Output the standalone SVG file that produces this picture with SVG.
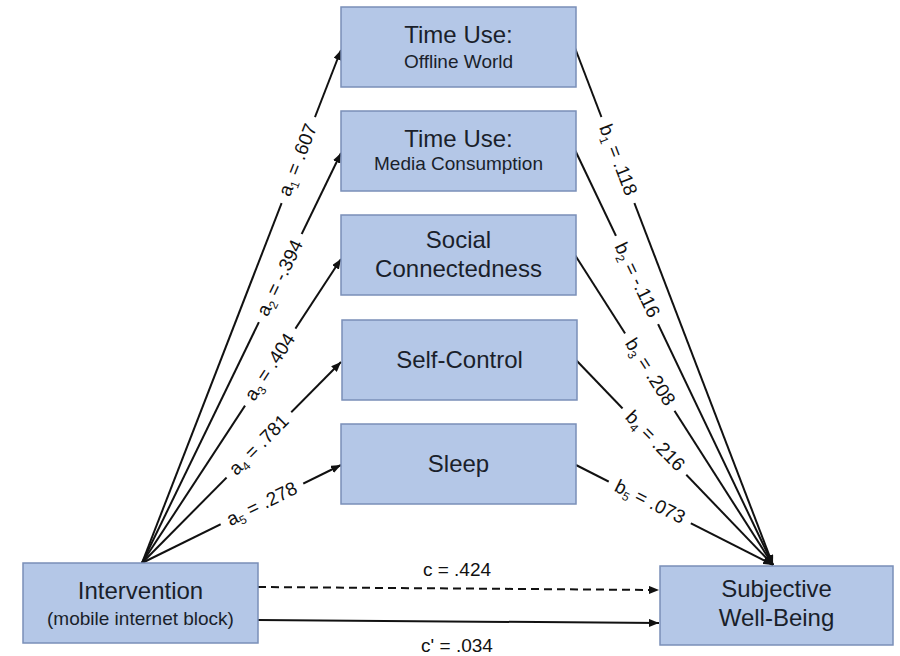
<svg xmlns="http://www.w3.org/2000/svg" width="900" height="656" viewBox="0 0 900 656">
<defs>
<marker id="arr" markerUnits="userSpaceOnUse" markerWidth="10" markerHeight="8" refX="10" refY="4" orient="auto">
<path d="M0,0 L10,4 L0,8 z" fill="#111"/>
</marker>
<style>
.box{fill:#b4c7e7;stroke:#7a8fb8;stroke-width:1.5}
.t{font-family:"Liberation Sans",Arial,sans-serif;fill:#1a1f2b;text-anchor:middle}
.big{font-size:24px}
.sm{font-size:19px}
.lab{font-family:"Liberation Sans",Arial,sans-serif;font-size:19px;fill:#111;text-anchor:middle}
.sub{font-size:12px}
.ln{stroke:#111;stroke-width:2;fill:none}
.bg{fill:#fff}
</style>
</defs>
<rect width="900" height="656" fill="#fff"/>
<g id="connectors">
<line class="ln" x1="142" y1="563" x2="341" y2="50" marker-end="url(#arr)"/>
<line class="ln" x1="142" y1="563" x2="341" y2="153" marker-end="url(#arr)"/>
<line class="ln" x1="142" y1="563" x2="341" y2="259" marker-end="url(#arr)"/>
<line class="ln" x1="142" y1="563" x2="341" y2="362" marker-end="url(#arr)"/>
<line class="ln" x1="142" y1="563" x2="341" y2="465" marker-end="url(#arr)"/>
<line class="ln" x1="575" y1="48" x2="773" y2="565" marker-end="url(#arr)"/>
<line class="ln" x1="575" y1="150" x2="773" y2="565" marker-end="url(#arr)"/>
<line class="ln" x1="575" y1="255" x2="773" y2="565" marker-end="url(#arr)"/>
<line class="ln" x1="576" y1="360" x2="773" y2="565" marker-end="url(#arr)"/>
<line class="ln" x1="576" y1="465" x2="773" y2="565" marker-end="url(#arr)"/>
<line class="ln" x1="258" y1="587" x2="659" y2="590" stroke-dasharray="8 5" marker-end="url(#arr)"/>
<line class="ln" x1="258" y1="620" x2="659" y2="623" marker-end="url(#arr)"/>
<g transform="translate(298,160) rotate(-68.8)"><rect class="bg" x="-46" y="-9" width="92" height="18"/><text class="lab" y="6">a<tspan class="sub" dy="4">1</tspan><tspan dy="-4"> = .607</tspan></text></g>
<g transform="translate(280,278) rotate(-64.1)"><rect class="bg" x="-49" y="-9" width="98" height="18"/><text class="lab" y="6">a<tspan class="sub" dy="4">2</tspan><tspan dy="-4"> = -.394</tspan></text></g>
<g transform="translate(270,367) rotate(-56.8)"><rect class="bg" x="-46" y="-9" width="92" height="18"/><text class="lab" y="6">a<tspan class="sub" dy="4">3</tspan><tspan dy="-4"> = .404</tspan></text></g>
<g transform="translate(259,445) rotate(-45.3)"><rect class="bg" x="-46" y="-9" width="92" height="18"/><text class="lab" y="6">a<tspan class="sub" dy="4">4</tspan><tspan dy="-4"> = .781</tspan></text></g>
<g transform="translate(262,504) rotate(-26.2)"><rect class="bg" x="-46" y="-9" width="92" height="18"/><text class="lab" y="6">a<tspan class="sub" dy="4">5</tspan><tspan dy="-4"> = .278</tspan></text></g>
<g transform="translate(618,160) rotate(69.0)"><rect class="bg" x="-46" y="-9" width="92" height="18"/><text class="lab" y="6">b<tspan class="sub" dy="4">1</tspan><tspan dy="-4"> = .118</tspan></text></g>
<g transform="translate(637,280) rotate(64.4)"><rect class="bg" x="-49" y="-9" width="98" height="18"/><text class="lab" y="6">b<tspan class="sub" dy="4">2</tspan><tspan dy="-4"> = -.116</tspan></text></g>
<g transform="translate(650,372) rotate(57.3)"><rect class="bg" x="-46" y="-9" width="92" height="18"/><text class="lab" y="6">b<tspan class="sub" dy="4">3</tspan><tspan dy="-4"> = .208</tspan></text></g>
<g transform="translate(655,441) rotate(45.9)"><rect class="bg" x="-46" y="-9" width="92" height="18"/><text class="lab" y="6">b<tspan class="sub" dy="4">4</tspan><tspan dy="-4"> = .216</tspan></text></g>
<g transform="translate(650,502) rotate(26.5)"><rect class="bg" x="-46" y="-9" width="92" height="18"/><text class="lab" y="6">b<tspan class="sub" dy="4">5</tspan><tspan dy="-4"> = .073</tspan></text></g>
<text class="lab" x="457" y="576">c = .424</text>
<text class="lab" x="457" y="652">c' = .034</text>
</g>
<g id="node-offline">
<rect class="box" x="341" y="7" width="235" height="80"/>
<text class="t big" x="458.5" y="43">Time Use:</text>
<text class="t sm" x="458.5" y="68">Offline World</text>
</g>
<g id="node-media">
<rect class="box" x="341" y="111" width="235" height="80"/>
<text class="t big" x="458.5" y="147">Time Use:</text>
<text class="t sm" x="458.5" y="170">Media Consumption</text>
</g>
<g id="node-social">
<rect class="box" x="341" y="215" width="235" height="80"/>
<text class="t big" x="458.5" y="248">Social</text>
<text class="t big" x="458.5" y="277">Connectedness</text>
</g>
<g id="node-selfcontrol">
<rect class="box" x="342" y="320" width="235" height="80"/>
<text class="t big" x="459.5" y="368">Self-Control</text>
</g>
<g id="node-sleep">
<rect class="box" x="341" y="424" width="235" height="80"/>
<text class="t big" x="458.5" y="472">Sleep</text>
</g>
<g id="node-intervention">
<rect class="box" x="23" y="563" width="235" height="80"/>
<text class="t big" x="140.5" y="599">Intervention</text>
<text class="t sm" x="140.5" y="625">(mobile internet block)</text>
</g>
<g id="node-swb">
<rect class="box" x="660" y="566" width="233" height="79"/>
<text class="t big" x="776.5" y="597">Subjective</text>
<text class="t big" x="776.5" y="626">Well-Being</text>
</g>
</svg>
